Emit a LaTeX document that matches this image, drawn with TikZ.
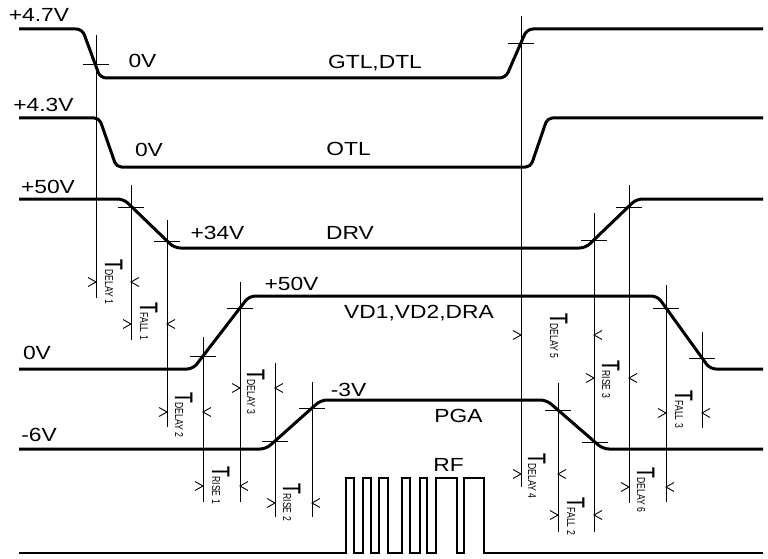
\documentclass[tikz,border=0pt]{standalone}
\usepackage{fontspec}
\setmainfont{Liberation Sans}
\newfontfamily\heavyT[FakeBold=1.2]{Liberation Sans}
\newcommand{\sxt}[1]{\scalebox{1.2}[1]{\fontsize{19}{19}\selectfont #1}}
\newcommand{\tlab}[1]{\scalebox{0.68}[1]{\heavyT\fontsize{25}{25}\selectfont T}\scalebox{0.75}[1]{\fontsize{11.5}{11.5}\selectfont #1}}
\newcommand{\xh}[2]{\draw[tick] ({#1-13},#2) -- ({#1+13},#2);}
\newcommand{\meas}[3]{\draw[chev] ({#1-8},{#3-4.5}) -- (#1,#3) -- ({#1-8},{#3+4.5});
  \draw[chev] ({#2+8},{#3-4.5}) -- (#2,#3) -- ({#2+8},{#3+4.5});}
\tikzset{
  sig/.style={line width=3pt, rounded corners=6pt, line join=round},
  rfsig/.style={line width=2.8pt, line join=miter},
  vline/.style={line width=0.9pt},
  tick/.style={line width=0.9pt},
  chev/.style={line width=0.9pt},
  lbl/.style={inner sep=0pt, anchor=base},
  tlbl/.style={inner sep=0pt, rotate=-90, anchor=base west},
}
\begin{document}
\begin{tikzpicture}[x=1pt,y=-1pt]
\useasboundingbox[fill=white] (0,0) rectangle (768,559);
% signals
\draw[sig] (19,29) -- (82.2,29) -- (100.3,78) -- (505.6,78) -- (527,29) -- (763,29);
\draw[sig,rounded corners=5pt] (19,118) -- (99.3,118) -- (116.4,167) -- (530.6,167) -- (547.4,118) -- (763,118);
\draw[sig] (19,199) -- (123.6,199) -- (174.4,248) -- (585.5,248) -- (636.4,199) -- (763,199);
\draw[sig] (19,369) -- (193,369) -- (249.2,296) -- (657.4,296) -- (710,369) -- (763,369);
\draw[sig] (19,449) -- (266,449) -- (321,400) -- (546.4,400) -- (603,449) -- (763,449);
\draw[rfsig] (19,553) -- (346,553) -- (346,478) -- (354,478) -- (354,553) -- (363,553) -- (363,478) -- (371,478) -- (371,553) -- (379,553) -- (379,478) -- (388,478) -- (388,553) -- (402,553) -- (402,478) -- (410,478) -- (410,553) -- (420,553) -- (420,478) -- (427,478) -- (427,553) -- (436,553) -- (436,478) -- (457,478) -- (457,553) -- (464,553) -- (464,478) -- (484,478) -- (484,553) -- (763,553);
% vertical reference lines
\draw[vline] (96,35) -- (96,298);
\draw[vline] (131,185) -- (131,340);
\draw[vline] (167,220) -- (167,427);
\draw[vline] (203,337) -- (203,502);
\draw[vline] (240,282) -- (240,502);
\draw[vline] (275,363) -- (275,517);
\draw[vline] (312,382) -- (312,517);
\draw[vline] (521,16) -- (521,487);
\draw[vline] (558,383) -- (558,532);
\draw[vline] (594,213) -- (594,532);
\draw[vline] (629,185) -- (629,503);
\draw[vline] (666,285) -- (666,502);
\draw[vline] (702,332) -- (702,428);
% crosshair ticks
\xh{96}{64} \xh{521}{43}
\xh{131}{207} \xh{167}{241} \xh{594}{240} \xh{629}{207}
\xh{203}{356} \xh{240}{308} \xh{666}{308} \xh{702}{358}
\xh{275}{441} \xh{312}{408} \xh{558}{410} \xh{595}{442}
% measurement marks
\meas{96}{131}{282}
\meas{131}{167}{324}
\meas{167}{203}{412}
\meas{203}{240}{486}
\meas{240}{275}{388}
\meas{275}{312}{503}
\meas{521}{558}{474}
\meas{558}{594}{515}
\meas{521}{594}{335}
\meas{594}{629}{378}
\meas{629}{666}{487}
\meas{666}{702}{413}
% level and signal labels
\node[lbl] (l47) at (39,22) {\sxt{+4.7V}};
\node[lbl] (l0a) at (142.5,68) {\sxt{0V}};
\node[lbl] (gtl) at (375,69) {\sxt{GTL,DTL}};
\node[lbl] (l43) at (43.5,112) {\sxt{+4.3V}};
\node[lbl] (l0b) at (149,157) {\sxt{0V}};
\node[lbl] (otl) at (348.5,156) {\sxt{OTL}};
\node[lbl] (l50a) at (48,193) {\sxt{+50V}};
\node[lbl] (l34) at (217.5,239) {\sxt{+34V}};
\node[lbl] (drv) at (350,239) {\sxt{DRV}};
\node[lbl] (l50b) at (291.5,290) {\sxt{+50V}};
\node[lbl] (vd) at (419,318) {\sxt{VD1,VD2,DRA}};
\node[lbl] (l0c) at (37,359) {\sxt{0V}};
\node[lbl] (l3) at (348.5,396) {\sxt{-3V}};
\node[lbl] (pga) at (458.5,422) {\sxt{PGA}};
\node[lbl] (l6) at (39,441) {\sxt{-6V}};
\node[lbl] (rf) at (448.5,471) {\sxt{RF}};
% timing labels
\node[tlbl] (td1) at (105,259) {\tlab{DELAY 1}};
\node[tlbl] (tf1) at (140,302) {\tlab{FALL 1}};
\node[tlbl] (td2) at (175,392) {\tlab{DELAY 2}};
\node[tlbl] (tr1) at (212,466) {\tlab{RISE 1}};
\node[tlbl] (td3) at (247,369) {\tlab{DELAY 3}};
\node[tlbl] (tr2) at (283,483) {\tlab{RISE 2}};
\node[tlbl] (td4) at (528,453) {\tlab{DELAY 4}};
\node[tlbl] (tf2) at (567,497) {\tlab{FALL 2}};
\node[tlbl] (td5) at (550,313) {\tlab{DELAY 5}};
\node[tlbl] (tr3) at (602,360) {\tlab{RISE 3}};
\node[tlbl] (tf3) at (675,390) {\tlab{FALL 3}};
\node[tlbl] (td6) at (637,467) {\tlab{DELAY 6}};
\end{tikzpicture}
\end{document}
